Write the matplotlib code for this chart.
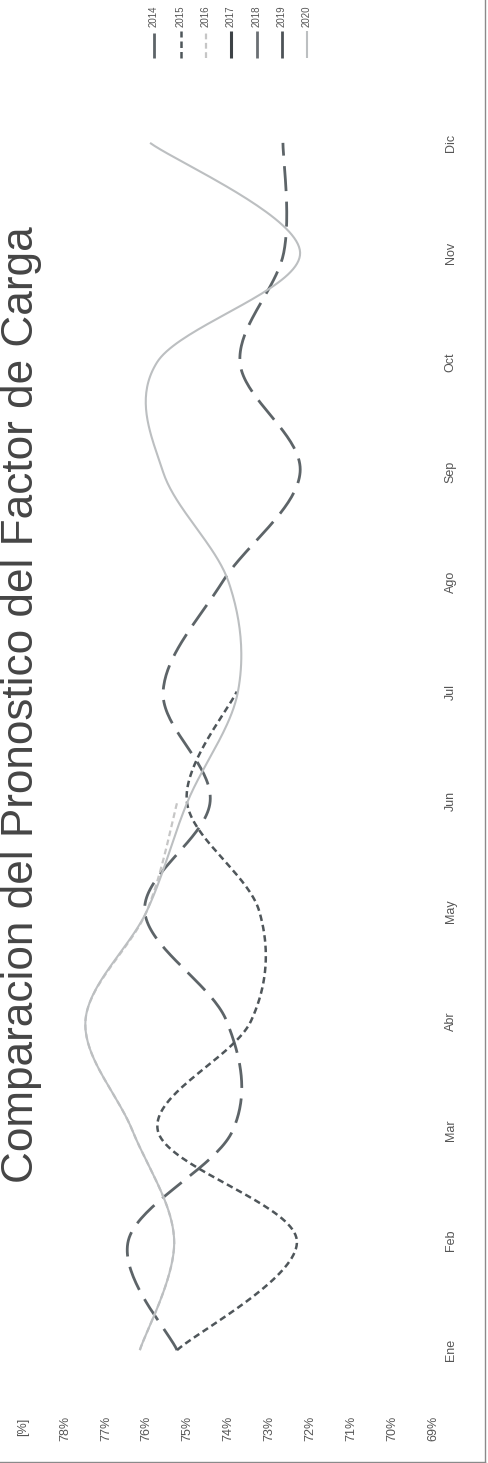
import numpy as np
import matplotlib
matplotlib.use('Agg')
import matplotlib.pyplot as plt
from matplotlib.lines import Line2D

plt.rcParams['font.family'] = ['Liberation Sans', 'DejaVu Sans']

# ---------------- data ----------------
months = ['Ene', 'Feb', 'Mar', 'Abr', 'May', 'Jun', 'Jul', 'Ago', 'Sep', 'Oct', 'Nov', 'Dic']
value_ticks = [78, 77, 76, 75, 74, 73, 72, 71, 70, 69]
value_tick_labels = ['78%', '77%', '76%', '75%', '74%', '73%', '72%', '71%', '70%', '69%']
years = ['2014', '2015', '2016', '2017', '2018', '2019', '2020']

fc_2014 = [75.26, 76.45, 73.90, 74.05, 76.05, 74.45, 75.60, 74.15, 72.25, 73.72, 72.65, 72.67]
fc_2015 = [75.26, 72.33, 75.73, 73.45, 73.25, 75.02, 73.80]
fc_2016 = [76.17, 75.33, 76.35, 77.50, 76.00, 75.25]
fc_2017 = []
fc_2018 = []
fc_2019 = []
fc_2020 = [76.17, 75.33, 76.35, 77.50, 76.00, 75.00, 73.77, 74.00, 75.60, 75.75, 72.25, 75.92]

title = 'Comparacion del Pronostico del Factor de Carga'

# ---------------- helpers ----------------
W, H = 489, 1463


def fx(px):
    return px / W


def fy(py):
    return 1 - py / H


def smooth(vals, n=40):
    """Excel-like smoothed line (Catmull-Rom as cubic Bezier)."""
    p = np.asarray(vals, float)
    k = len(p)
    if k < 2:
        return p, np.arange(k, dtype=float)
    P = np.column_stack([np.arange(k, dtype=float), p])
    Pe = np.vstack([P[0], P, P[-1]])
    out = []
    for i in range(k - 1):
        p0, p1, p2, p3 = Pe[i], Pe[i + 1], Pe[i + 2], Pe[i + 3]
        c1 = p1 + (p2 - p0) / 6
        c2 = p2 - (p3 - p1) / 6
        t = np.linspace(0, 1, n, endpoint=(i == k - 2))[:, None]
        B = (1 - t) ** 3 * p1 + 3 * (1 - t) ** 2 * t * c1 + 3 * (1 - t) * t ** 2 * c2 + t ** 3 * p2
        out.append(B)
    B = np.vstack(out)
    return B[:, 1], B[:, 0]   # values (horizontal), month index (vertical)


styles = {
    '2014': dict(color='#5d6468', lw=2.0, dashes=(9, 3.8)),
    '2015': dict(color='#4f565a', lw=1.8, dashes=(2.6, 1.6)),
    '2016': dict(color='#c6c6c6', lw=1.6, dashes=(2.6, 1.6)),
    '2017': dict(color='#3d4246', lw=2.2, dashes=None),
    '2018': dict(color='#6a6f73', lw=2.0, dashes=None),
    '2019': dict(color='#4d5357', lw=2.0, dashes=None),
    '2020': dict(color='#bcbfc1', lw=1.5, dashes=None),
}
series = {'2014': fc_2014, '2015': fc_2015, '2016': fc_2016, '2017': fc_2017,
          '2018': fc_2018, '2019': fc_2019, '2020': fc_2020}

# ---------------- figure ----------------
fig = plt.figure(figsize=(W / 100, H / 100), dpi=100)
fig.patch.set_facecolor('white')

ax = fig.add_axes([fx(65), fy(1405), fx(433) - fx(65), fy(88) - fy(1405)])
ax.set_facecolor('none')

for yr in years:
    vals = series[yr]
    if len(vals) == 0:
        continue
    st = styles[yr]
    xs, ys = smooth(vals)
    line, = ax.plot(xs, ys, color=st['color'], lw=st['lw'], solid_capstyle='butt',
                    dash_capstyle='butt')
    if st['dashes']:
        line.set_dashes(st['dashes'])

ax.set_xlim(78, 69)
ax.set_ylim(-0.5, 11.5)
ax.set_xticks(value_ticks)
ax.set_xticklabels(value_tick_labels, rotation=90, va='top', ha='center')
ax.set_yticks(range(len(months)))
ax.set_yticklabels(months, rotation=90, va='center')
ax.yaxis.tick_right()
ax.tick_params(axis='x', length=0, pad=8, labelsize=9, labelcolor='#555555')
ax.tick_params(axis='y', length=0, pad=8.5, labelsize=9, labelcolor='#555555')
for s in ax.spines.values():
    s.set_visible(False)

# unit label
fig.text(fx(23), fy(1427), '[%]', rotation=90, ha='center', va='center',
         fontsize=9, color='#555555')

# title (rotated, fitted to its length in the reference)
t = fig.text(fx(1), fy(705), title, rotation=90, ha='left', va='center',
             fontsize=24, color='#454545')
fig.canvas.draw()
ext = t.get_window_extent(renderer=fig.canvas.get_renderer())
t.set_fontsize(24 * 956 / ext.height)

# legend (rotated, laid out along the top)
leg_x = [154, 181, 206, 231, 257, 282, 307]
for yr, lx in zip(years, leg_x):
    st = styles[yr]
    ln = Line2D([fx(lx), fx(lx)], [fy(58), fy(31)], transform=fig.transFigure,
                color=st['color'], lw=st['lw'], solid_capstyle='butt', dash_capstyle='butt')
    if st['dashes']:
        ln.set_dashes(st['dashes'])
    fig.add_artist(ln)
    fig.text(fx(lx), fy(27), yr, rotation=90, ha='center', va='bottom',
             fontsize=7, color='#555555')

# chart frame (right and bottom edges visible in the scan)
fig.add_artist(Line2D([fx(485), fx(485)], [fy(0), fy(1462)], transform=fig.transFigure,
                      color='#8a8a8a', lw=1.0))
fig.add_artist(Line2D([fx(0), fx(485)], [fy(1462), fy(1462)], transform=fig.transFigure,
                      color='#8a8a8a', lw=1.0))

fig.savefig('out.png', dpi=100, facecolor='white')
